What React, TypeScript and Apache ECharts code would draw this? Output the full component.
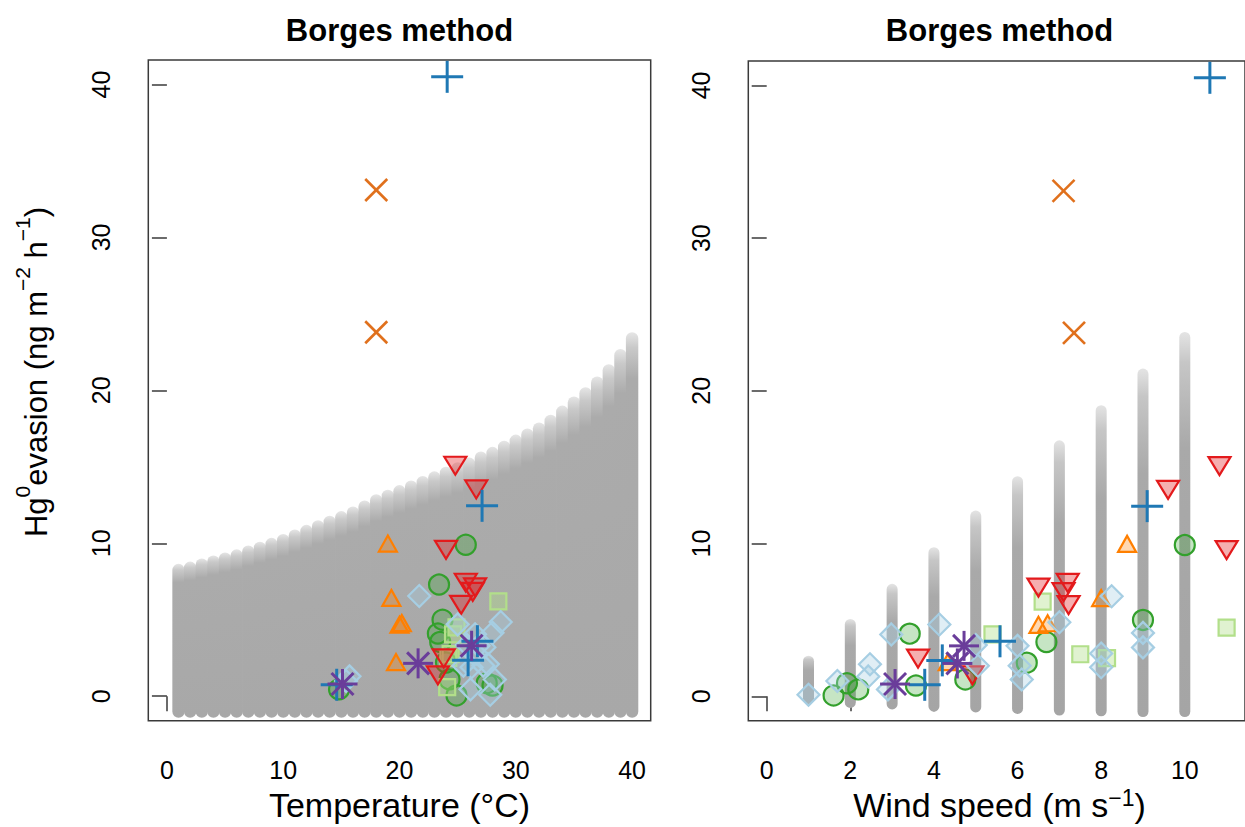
import React, { useEffect, useRef } from 'react';
import * as echarts from 'echarts';

const FONT = '"Liberation Sans", Arial, Helvetica, sans-serif';

// axis ticks
const tempTicks = [0, 10, 20, 30, 40];
const windTicks = [0, 2, 4, 6, 8, 10];
const evasionTicks = [0, 10, 20, 30, 40];

// Modelled (grey) Borges-method evasion ranges, temperature panel
const gridTemp = [1, 2, 3, 4, 5, 6, 7, 8, 9, 10, 11, 12, 13, 14, 15, 16, 17, 18, 19, 20,
  21, 22, 23, 24, 25, 26, 27, 28, 29, 30, 31, 32, 33, 34, 35, 36, 37, 38, 39, 40];
const gridTempLow = [-1.0, -1.0, -1.0, -1.0, -1.0, -1.0, -1.0, -1.0, -1.0, -1.0,
  -1.0, -1.0, -1.0, -1.0, -1.0, -1.0, -1.0, -1.0, -1.0, -1.0,
  -1.0, -1.0, -1.0, -1.0, -1.0, -1.0, -1.0, -1.0, -1.0, -1.0,
  -1.0, -1.0, -1.0, -1.0, -1.0, -1.0, -1.0, -1.0, -1.0, -1.0];
const gridTempHigh = [8.25, 8.4, 8.6, 8.8, 9.0, 9.2, 9.45, 9.7, 9.95, 10.2,
  10.5, 10.8, 11.1, 11.4, 11.7, 12.0, 12.4, 12.8, 13.1, 13.4,
  13.7, 14.0, 14.3, 14.6, 14.9, 15.2, 15.6, 15.9, 16.3, 16.7,
  17.1, 17.5, 18.0, 18.6, 19.2, 19.8, 20.5, 21.3, 22.3, 23.4];

// Modelled (grey) ranges, wind panel
const gridWind = [1, 2, 3, 4, 5, 6, 7, 8, 9, 10];
const gridWindLow = [-0.15, -0.4, -0.5, -0.65, -0.7, -0.8, -0.9, -0.95, -1.0, -1.0];
const gridWindHigh = [2.3, 4.7, 7.0, 9.4, 11.8, 14.05, 16.4, 18.7, 21.1, 23.5];

// Observations: temperature (°C), wind speed (m/s), evasion (ng m-2 h-1)
const plusTemp = [24.1, 27.1, 26.7, 25.9, 14.6];
const plusWind = [10.6, 9.1, 5.58, 4.2, 3.78];
const plusEvas = [40.5, 12.45, 3.6, 2.35, 0.75];

const crossTemp = [18.0, 18.0];
const crossWind = [7.1, 7.35];
const crossEvas = [33.1, 23.8];

const upTemp = [19.0, 19.3, 20.0, 20.2, 19.7];
const upWind = [8.62, 8.0, 6.5, 6.72, 4.33];
const upEvas = [9.85, 6.3, 4.55, 4.65, 2.1];

const downTemp = [24.8, 26.6, 24.0, 25.7, 26.5, 26.3, 25.3, 23.8, 23.3];
const downWind = [10.83, 9.6, 11.0, 7.2, 6.5, 7.1, 7.22, 3.62, 4.92];
const downEvas = [15.2, 13.65, 9.7, 7.55, 7.25, 6.95, 6.1, 2.6, 1.5];

const circTemp = [25.7, 23.4, 23.7, 23.3, 23.5, 24.0, 24.3, 27.5, 28.0, 14.8, 24.9];
const circWind = [10.0, null, 9.0, 3.42, 6.69, 6.22, 4.75, 1.92, 3.57, 2.19, 1.6];
const circEvas = [9.9, 7.3, 5.0, 4.1, 3.55, 2.2, 1.1, 0.85, 0.7, 0.45, 0.05];

const sqTemp = [28.5, 24.9, 24.6, 24.4, 24.2, 24.1];
const sqWind = [6.6, 11.0, 5.4, 7.5, 8.14, null];
const sqEvas = [6.2, 4.5, 4.05, 2.75, 2.5, 0.6];

const diaTemp = [21.7, 28.7, 25.0, 28.0, 26.5, 25.8, 26.8, 27.3, 26.6, 27.6, 27.2, 25.5, 26.2, 15.7, 28.2, 15.4, 26.1, 27.8];
const diaWind = [8.25, 7.0, 4.13, 9.0, 2.98, 5.0, 6.0, 9.0, 8.0, 2.47, 6.05, 5.05, 8.0, 2.43, 6.1, 1.69, 2.9, 1.0];
const diaEvas = [6.55, 4.85, 4.7, 4.15, 4.05, 3.35, 3.3, 3.2, 2.8, 2.1, 2.0, 2.0, 1.9, 1.3, 1.1, 1.0, 0.45, 0.1];

const starTemp = [26.2, 21.6, 15.1];
const starWind = [4.72, 4.56, 3.07];
const starEvas = [3.3, 2.15, 0.8];

function columnSeries(xs: number[], lows: number[], highs: number[], axis: number, halfW: number, stops: any[]) {
  return {
    type: 'custom',
    xAxisIndex: axis,
    yAxisIndex: axis,
    silent: true,
    data: xs.map((x, i) => [x, lows[i], highs[i]]),
    encode: { x: 0, y: [1, 2] },
    renderItem: (_p: any, api: any) => {
      const top = api.coord([api.value(0), api.value(2)]);
      const bot = api.coord([api.value(0), api.value(1)]);
      return {
        type: 'rect',
        shape: { x: top[0] - halfW, y: top[1] - halfW, width: 2 * halfW, height: bot[1] - top[1] + 2 * halfW, r: halfW },
        style: { fill: new echarts.graphic.LinearGradient(0, 0, 0, 1, stops) },
      };
    },
  };
}

function drawMarker(kind: string, cx: number, cy: number, stroke: string, fill: string): any {
  switch (kind) {
    case 'circle':
      return { type: 'circle', shape: { cx, cy, r: 10 }, style: { fill, stroke, lineWidth: 2.2 } };
    case 'square':
      return { type: 'rect', shape: { x: cx - 8, y: cy - 8, width: 16, height: 16 }, style: { fill, stroke, lineWidth: 2.2 } };
    case 'diamond':
      return { type: 'polygon', shape: { points: [[cx, cy - 11], [cx + 11, cy], [cx, cy + 11], [cx - 11, cy]] }, style: { fill, stroke, lineWidth: 2.2 } };
    case 'up':
      return { type: 'polygon', shape: { points: [[cx, cy - 10], [cx + 9, cy + 6], [cx - 9, cy + 6]] }, style: { fill, stroke, lineWidth: 2.2 } };
    case 'down':
      return { type: 'polygon', shape: { points: [[cx - 11, cy - 7], [cx + 11, cy - 7], [cx, cy + 11]] }, style: { fill, stroke, lineWidth: 2.2 } };
    case 'plus': {
      const r = 16;
      return { type: 'group', children: [
        { type: 'line', shape: { x1: cx - r, y1: cy, x2: cx + r, y2: cy }, style: { stroke, lineWidth: 3 } },
        { type: 'line', shape: { x1: cx, y1: cy - r, x2: cx, y2: cy + r }, style: { stroke, lineWidth: 3 } },
      ] };
    }
    case 'cross': {
      const r = 11;
      return { type: 'group', children: [
        { type: 'line', shape: { x1: cx - r, y1: cy - r, x2: cx + r, y2: cy + r }, style: { stroke, lineWidth: 2.6 } },
        { type: 'line', shape: { x1: cx - r, y1: cy + r, x2: cx + r, y2: cy - r }, style: { stroke, lineWidth: 2.6 } },
      ] };
    }
    case 'star': {
      const r = 15;
      const d = 11;
      return { type: 'group', children: [
        { type: 'line', shape: { x1: cx - r, y1: cy, x2: cx + r, y2: cy }, style: { stroke, lineWidth: 3 } },
        { type: 'line', shape: { x1: cx, y1: cy - r, x2: cx, y2: cy + r }, style: { stroke, lineWidth: 3 } },
        { type: 'line', shape: { x1: cx - d, y1: cy - d, x2: cx + d, y2: cy + d }, style: { stroke, lineWidth: 3 } },
        { type: 'line', shape: { x1: cx - d, y1: cy + d, x2: cx + d, y2: cy - d }, style: { stroke, lineWidth: 3 } },
      ] };
    }
  }
  return null;
}

function markerSeries(name: string, xs: (number | null)[], ys: number[], axis: number, kind: string, stroke: string, fill: string) {
  const data: number[][] = [];
  xs.forEach((x, i) => { if (x != null) data.push([x, ys[i]]); });
  return {
    name,
    type: 'custom',
    xAxisIndex: axis,
    yAxisIndex: axis,
    data,
    encode: { x: 0, y: 1 },
    renderItem: (_p: any, api: any) => {
      const c = api.coord([api.value(0), api.value(1)]);
      return drawMarker(kind, c[0], c[1], stroke, fill);
    },
  };
}

const groups = [
  { name: 'circles', t: circTemp, w: circWind, e: circEvas, kind: 'circle', stroke: '#33a02c', fill: 'rgba(51,160,44,0.28)' },
  { name: 'squares', t: sqTemp, w: sqWind, e: sqEvas, kind: 'square', stroke: '#b2df8a', fill: 'rgba(178,223,138,0.4)' },
  { name: 'down', t: downTemp, w: downWind, e: downEvas, kind: 'down', stroke: '#e31a1c', fill: 'rgba(227,26,28,0.35)' },
  { name: 'up', t: upTemp, w: upWind, e: upEvas, kind: 'up', stroke: '#ff7f00', fill: 'rgba(255,127,0,0.3)' },
  { name: 'diamonds', t: diaTemp, w: diaWind, e: diaEvas, kind: 'diamond', stroke: '#a6cee3', fill: 'rgba(166,206,227,0.35)' },
  { name: 'cross', t: crossTemp, w: crossWind, e: crossEvas, kind: 'cross', stroke: '#e0701c', fill: 'none' },
  { name: 'plus', t: plusTemp, w: plusWind, e: plusEvas, kind: 'plus', stroke: '#1f78b4', fill: 'none' },
  { name: 'star', t: starTemp, w: starWind, e: starEvas, kind: 'star', stroke: '#6a3d9a', fill: 'none' },
];

const leftStops = [
  { offset: 0, color: '#e6e6e6' },
  { offset: 0.04, color: '#c9c9c9' },
  { offset: 0.12, color: '#ababab' },
  { offset: 1, color: '#a8a8a8' },
];
const rightStops = [
  { offset: 0, color: '#e4e4e4' },
  { offset: 0.08, color: '#c6c6c6' },
  { offset: 0.3, color: '#a9a9a9' },
  { offset: 1, color: '#a5a5a5' },
];

function xAxisCfg(grid: number, min: number, max: number, ticks: number[]) {
  return {
    type: 'value', gridIndex: grid, min, max,
    axisLine: { show: false }, splitLine: { show: false },
    axisTick: { show: true, length: 15, customValues: ticks, lineStyle: { color: '#3a3a3a', width: 1.5 } },
    axisLabel: { show: true, customValues: ticks, margin: 37, fontSize: 25, color: '#000', fontFamily: FONT },
  };
}
function yAxisCfg(grid: number) {
  return {
    type: 'value', gridIndex: grid, min: -1.6, max: 41.6,
    axisLine: { show: false }, splitLine: { show: false },
    axisTick: { show: true, length: 15, customValues: evasionTicks, lineStyle: { color: '#3a3a3a', width: 1.5 } },
    axisLabel: { show: true, customValues: evasionTicks, rotate: 90, margin: 35, fontSize: 25, color: '#000', fontFamily: FONT },
  };
}

const yRich = {
  m: { fontSize: 31, lineHeight: 48, fontFamily: FONT, fill: '#000' },
  s: { fontSize: 21, lineHeight: 17, verticalAlign: 'top', fontFamily: FONT, fill: '#000' },
};
const xRich = {
  m: { fontSize: 34, lineHeight: 38, fontFamily: FONT, fill: '#000' },
  s: { fontSize: 23, lineHeight: 12, verticalAlign: 'top', fontFamily: FONT, fill: '#000' },
};

export default function App() {
  const ref = useRef<HTMLDivElement>(null);
  useEffect(() => {
    const chart = echarts.init(ref.current!, null, { renderer: 'svg' });
    const series: any[] = [
      columnSeries(gridTemp, gridTempLow, gridTempHigh, 0, 6.2, leftStops),
      columnSeries(gridWind, gridWindLow, gridWindHigh, 1, 5.5, rightStops),
    ];
    groups.forEach((g) => {
      series.push(markerSeries(g.name + '-T', g.t, g.e, 0, g.kind, g.stroke, g.fill));
    });
    groups.forEach((g) => {
      series.push(markerSeries(g.name + '-W', g.w, g.e, 1, g.kind, g.stroke, g.fill));
    });
    chart.setOption({
      animation: false,
      backgroundColor: '#fff',
      grid: [
        { left: 148.3, top: 60, width: 502.4, height: 660.7, show: true, borderColor: '#3a3a3a', borderWidth: 1.5, backgroundColor: 'transparent' },
        { left: 748.3, top: 61, width: 502.6, height: 659.7, show: true, borderColor: '#3a3a3a', borderWidth: 1.5, backgroundColor: 'transparent' },
      ],
      xAxis: [xAxisCfg(0, -1.6, 41.6, tempTicks), xAxisCfg(1, -0.44, 11.44, windTicks)],
      yAxis: [yAxisCfg(0), yAxisCfg(1)],
      series,
      graphic: [
        { type: 'text', x: 399.5, y: 30, style: { text: 'Borges method', align: 'center', verticalAlign: 'middle', font: 'bold 31px ' + FONT, fill: '#000' } },
        { type: 'text', x: 999.5, y: 30, style: { text: 'Borges method', align: 'center', verticalAlign: 'middle', font: 'bold 31px ' + FONT, fill: '#000' } },
        { type: 'text', x: 399.5, y: 805, style: { text: 'Temperature (°C)', align: 'center', verticalAlign: 'middle', font: '34px ' + FONT, fill: '#000' } },
        { type: 'text', x: 999.5, y: 805, style: { text: '{m|Wind speed (m s}{s|−1}{m|)}', rich: xRich, align: 'center', verticalAlign: 'middle', fill: '#000' } },
        { type: 'text', x: 36, y: 372, rotation: Math.PI / 2, style: { text: '{m|Hg}{s|0}{m|evasion (ng m}{s|−2}{m| h}{s|−1}{m|)}', rich: yRich, align: 'center', verticalAlign: 'middle', fill: '#000' } },
      ],
    });
    return () => chart.dispose();
  }, []);
  return <div ref={ref} style={{ position: 'absolute', left: 0, top: 0, width: 1245, height: 827, background: '#fff' }} />;
}
